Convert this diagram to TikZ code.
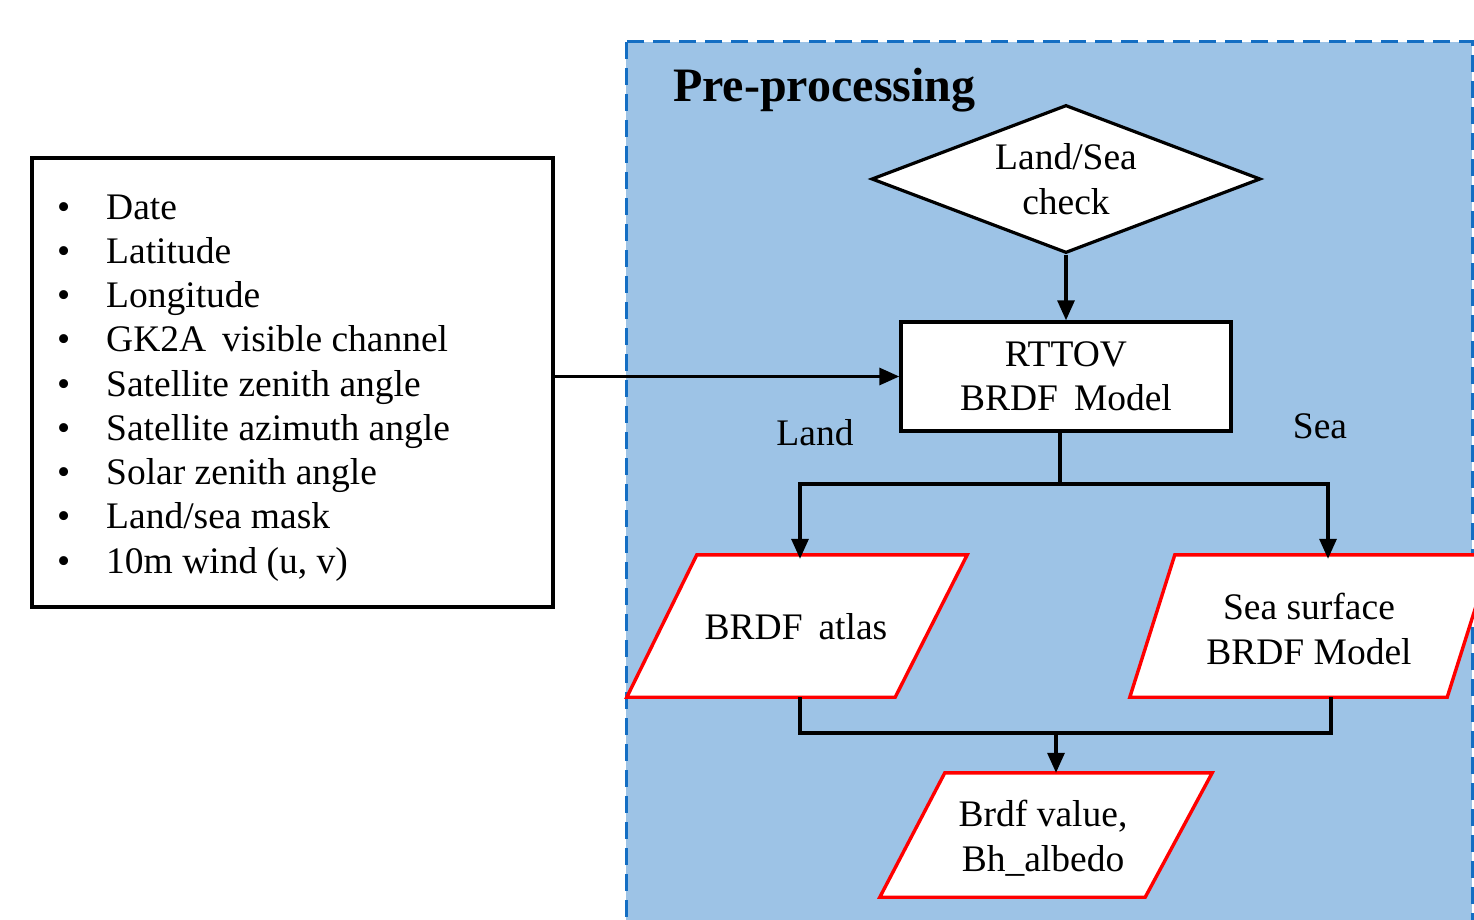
\documentclass[tikz,border=0pt]{standalone}
\usepackage{fontspec}
\setmainfont{Liberation Serif}
\usetikzlibrary{arrows.meta,shapes.geometric}
\definecolor{panelfill}{RGB}{157,195,230}
\definecolor{panelline}{RGB}{20,110,195}
\definecolor{boxred}{RGB}{255,0,0}
\newcommand\fsz{\fontsize{37.5}{44.5}\selectfont}
\newcommand\wsp{\hspace{16pt}}
\tikzset{
  txt/.style={font=\fsz, align=center, inner sep=0pt},
  conn/.style={line width=3.2pt, draw=black},
  arr/.style={conn, -{Triangle[length=20pt,width=17pt]}},
  blackbox/.style={draw=black, line width=3.4pt, fill=white, rectangle},
  para/.style={inner sep=0pt, font=\fsz, align=center},
  paraline/.style={draw=boxred, line width=3.4pt, fill=white, line join=miter},
}
\begin{document}
\begin{tikzpicture}[x=1pt,y=-1pt]
\useasboundingbox (0,0) rectangle (1474,920);
\fill[white] (0,0) rectangle (1474,920);
% panel
\draw[fill=panelfill, draw=panelline, line width=3pt, dash pattern=on 17pt off 9pt] (626,42) rectangle (1472,960);
\node[anchor=base west, inner sep=0pt, font=\fontsize{48}{56}\selectfont\bfseries] (title) at (673,102) {Pre-processing};
% input box
\node[blackbox, minimum width=521pt, minimum height=449pt] (inbox) at (292.5,382.5) {};
\foreach \t [count=\i] in {Date,Latitude,Longitude,GK2A\wsp visible channel,Satellite zenith angle,Satellite azimuth angle,Solar zenith angle,Land/sea mask,{10m wind (u, v)}}{
  \node[anchor=base west, inner sep=0pt, font=\fsz] (b\i) at (57,{207+12+(\i-1)*44.25}) {•};
  \node[anchor=base west, inner sep=0pt, font=\fsz] (t\i) at (106,{207+12+(\i-1)*44.25}) {\t};
}
% diamond
\node[draw=black, line width=3.2pt, fill=white, shape=diamond, aspect=2.63, inner sep=0pt, minimum width=389pt, minimum height=148pt,
  label={[txt]center:Land/Sea\\check}] (check) at (1066,179) {};
% rttov box
\node[blackbox, minimum width=330pt, minimum height=109pt, txt] (rttov) at (1066,376.5) {RTTOV\\BRDF\wsp Model};
\node[txt] (land) at (815,433) {Land};
\node[txt] (sea) at (1320,426) {Sea};
% parallelograms
\node[para, minimum width=340pt, minimum height=142pt] (atlas) at (797,626) {};
\draw[paraline] ([xshift=70pt]atlas.north west) -- (atlas.north east) -- ([xshift=-72pt]atlas.south east) -- (atlas.south west) -- cycle;
\node[txt] (atlastxt) at (796,627) {BRDF\wsp atlas};
\node[para, minimum width=362pt, minimum height=142pt] (seasurf) at (1311,626) {};
\draw[paraline] ([xshift=45pt]seasurf.north west) -- (seasurf.north east) -- ([xshift=-45pt]seasurf.south east) -- (seasurf.south west) -- cycle;
\node[txt] (seatxt) at (1309,629) {Sea surface\\BRDF Model};
\node[para, minimum width=332pt, minimum height=124pt] (result) at (1046,835) {};
\draw[paraline] ([xshift=65pt]result.north west) -- (result.north east) -- ([xshift=-67pt]result.south east) -- (result.south west) -- cycle;
\node[txt] (restxt) at (1043,838) {Brdf value,\\Bh\_albedo};
% connectors
\draw[arr] (check.south) -- (rttov.north);
\draw[arr] (inbox.east |- rttov.west) -- (rttov.west);
\coordinate (split) at (1060,484);
\draw[conn] ([xshift=-6pt]rttov.south) -- (split);
\draw[arr] (split) -| ([yshift=-4pt]800,0 |- atlas.north);
\draw[arr] (split) -| ([yshift=-4pt]1328,0 |- seasurf.north);
\coordinate (join) at (1056,733);
\draw[conn] (800,0 |- atlas.south) |- (join) -| (1331,0 |- seasurf.south);
\draw[arr] (join) -- (1056,0 |- result.north);
\end{tikzpicture}
\end{document}
